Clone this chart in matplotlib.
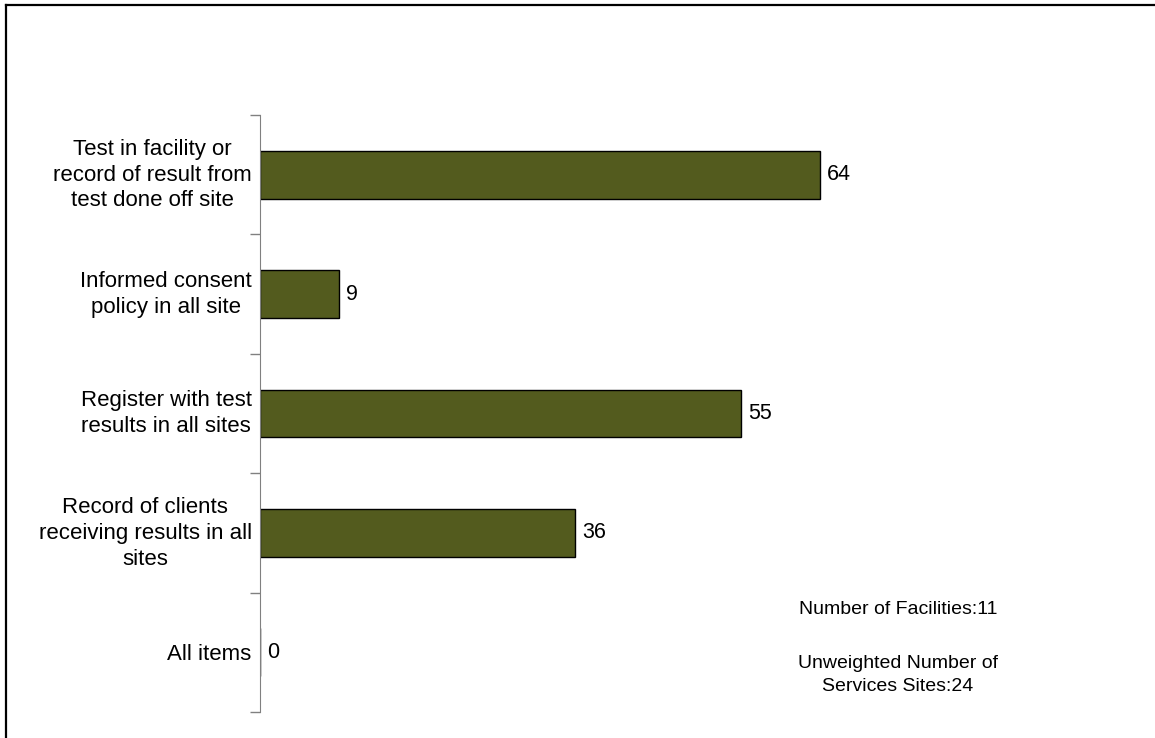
import matplotlib.pyplot as plt
from matplotlib.lines import Line2D
from matplotlib.transforms import ScaledTranslation

plt.rcParams['font.family'] = ['Liberation Sans', 'DejaVu Sans']

categories = [
    "Test in facility or\nrecord of result from\ntest done off site",
    "Informed consent\npolicy in all site",
    "Register with test\nresults in all sites",
    "Record of clients\nreceiving results in all\nsites",
    "All items",
]
values = [64, 9, 55, 36, 0]
n_facilities = 11
n_sites = 24

W, H = 1155, 738
fig = plt.figure(figsize=(W / 100, H / 100), dpi=100)

# outer frame: only top and left edges fall inside the image
fig.lines.append(Line2D([6 / W, 1], [1 - 5 / H, 1 - 5 / H], transform=fig.transFigure,
                        color='black', linewidth=1.6))
fig.lines.append(Line2D([6 / W, 6 / W], [0, 1 - 5 / H], transform=fig.transFigure,
                        color='black', linewidth=1.6))

ax = fig.add_axes([260 / W, 1 - 712 / H, 744 / W, 597 / H])
y = list(range(len(categories)))
ax.barh(y, values, height=0.4, color='#535B1E', edgecolor='black', linewidth=1.0)
ax.set_ylim(len(categories) - 0.5, -0.5)
ax.set_xlim(0, 85)

for yi, v in zip(y, values):
    ax.annotate(str(v), (v, yi), xytext=(5, 0), textcoords='offset points',
                va='center', ha='left', fontsize=15.5)

ax.set_yticks([i - 0.5 for i in range(len(categories) + 1)])
ax.set_yticklabels([])
ax.set_yticks(y, minor=True)
ax.set_yticklabels(categories, minor=True, fontsize=16, linespacing=1.3,
                   ha='right', multialignment='center')
ax.tick_params(axis='y', which='minor', length=0, pad=6)
ax.tick_params(axis='y', which='major', length=7, color='#808080', width=1)
# nudge multi-line labels up so they sit centred on the bars
for lab in ax.get_yticklabels(minor=True):
    if '\n' in lab.get_text():
        lab.set_transform(lab.get_transform() + ScaledTranslation(0, 0.045, fig.dpi_scale_trans))
ax.set_xticks([])
for s in ['top', 'right', 'bottom']:
    ax.spines[s].set_visible(False)
ax.spines['left'].set_color('#808080')

fig.text(898 / W, 1 - 610 / H, f"Number of Facilities:{n_facilities}", ha='center', va='center', fontsize=14)
fig.text(898 / W, 1 - 675 / H, f"Unweighted Number of\nServices Sites:{n_sites}", ha='center', va='center',
         fontsize=14, linespacing=1.45)

fig.savefig('out.png', dpi=100)
